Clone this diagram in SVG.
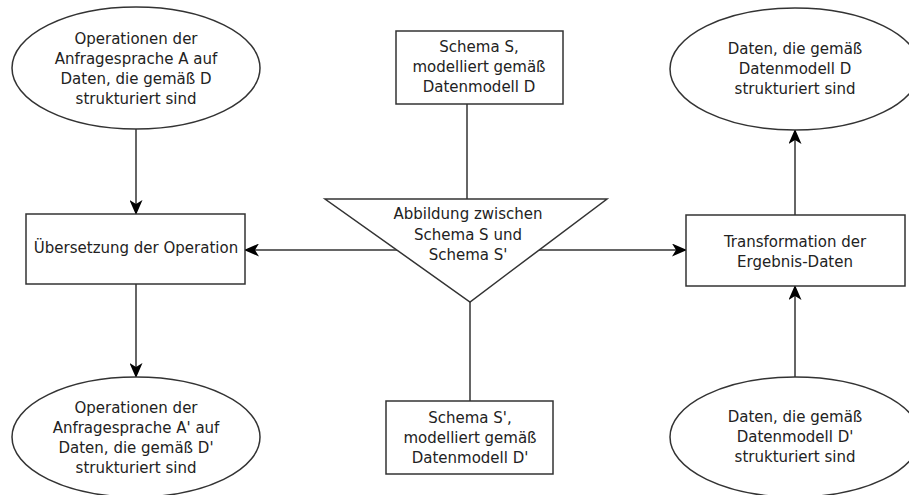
<svg xmlns="http://www.w3.org/2000/svg" width="909" height="495" viewBox="0 0 909 495">
<defs>
<marker id="arr" markerUnits="userSpaceOnUse" markerWidth="15" markerHeight="13" viewBox="0 0 15 13" refX="14" refY="6.5" orient="auto">
<path d="M0,0 L15,6.5 L0,13 L4,6.5 Z" fill="#000"/>
</marker>
</defs>
<style>
.s{fill:#fff;stroke:#333;stroke-width:1.5}
.t{font-family:"DejaVu Sans",Verdana,sans-serif;font-size:15px;fill:#222;text-anchor:middle}
.c{stroke:#333;stroke-width:1.5;fill:none}
.a{marker-end:url(#arr)}
</style>
<rect width="909" height="495" fill="#fff"/>
<g id="connectors">
<line class="c a" x1="136" y1="129" x2="136" y2="214"/>
<line class="c a" x1="397" y1="250" x2="245" y2="250"/>
<line class="c a" x1="136" y1="284" x2="136" y2="377"/>
<line class="c a" x1="539" y1="250" x2="686" y2="250"/>
<line class="c a" x1="795" y1="215" x2="795" y2="130"/>
<line class="c a" x1="795" y1="377" x2="795" y2="286"/>
<line class="c" x1="467" y1="104" x2="467" y2="199"/>
<line class="c" x1="470" y1="302" x2="470" y2="401"/>
</g>
<g id="opA">
<ellipse class="s" cx="136" cy="68" rx="124" ry="61"/>
<text class="t" x="136" y="44">Operationen der</text>
<text class="t" x="136" y="64">Anfragesprache A auf</text>
<text class="t" x="136" y="84">Daten, die gemäß D</text>
<text class="t" x="136" y="104">strukturiert sind</text>
</g>
<g id="uebersetzung">
<rect class="s" x="26" y="214" width="219" height="70"/>
<text class="t" x="136" y="253">Übersetzung der Operation</text>
</g>
<g id="opA2">
<ellipse class="s" cx="136" cy="437" rx="124" ry="60"/>
<text class="t" x="136" y="413">Operationen der</text>
<text class="t" x="136" y="433">Anfragesprache A' auf</text>
<text class="t" x="136" y="453">Daten, die gemäß D'</text>
<text class="t" x="136" y="473">strukturiert sind</text>
</g>
<g id="schemaS">
<rect class="s" x="396" y="31" width="167" height="73"/>
<text class="t" x="479" y="52">Schema S,</text>
<text class="t" x="479" y="72">modelliert gemäß</text>
<text class="t" x="479" y="92">Datenmodell D</text>
</g>
<g id="abbildung">
<polygon class="s" points="325,199 607,199 470,302"/>
<text class="t" x="468" y="219">Abbildung zwischen</text>
<text class="t" x="468" y="240">Schema S und</text>
<text class="t" x="468" y="260">Schema S'</text>
</g>
<g id="schemaS2">
<rect class="s" x="386" y="401" width="167" height="73"/>
<text class="t" x="470" y="423">Schema S',</text>
<text class="t" x="470" y="443">modelliert gemäß</text>
<text class="t" x="470" y="463">Datenmodell D'</text>
</g>
<g id="transformation">
<rect class="s" x="686" y="215" width="219" height="71"/>
<text class="t" x="795" y="247">Transformation der</text>
<text class="t" x="795" y="267">Ergebnis-Daten</text>
</g>
<g id="datenD">
<ellipse class="s" cx="795" cy="69" rx="125" ry="61"/>
<text class="t" x="795" y="54">Daten, die gemäß</text>
<text class="t" x="795" y="74">Datenmodell D</text>
<text class="t" x="795" y="94">strukturiert sind</text>
</g>
<g id="datenD2">
<ellipse class="s" cx="795" cy="437" rx="125" ry="60"/>
<text class="t" x="795" y="422">Daten, die gemäß</text>
<text class="t" x="795" y="442">Datenmodell D'</text>
<text class="t" x="795" y="462">strukturiert sind</text>
</g>
</svg>
